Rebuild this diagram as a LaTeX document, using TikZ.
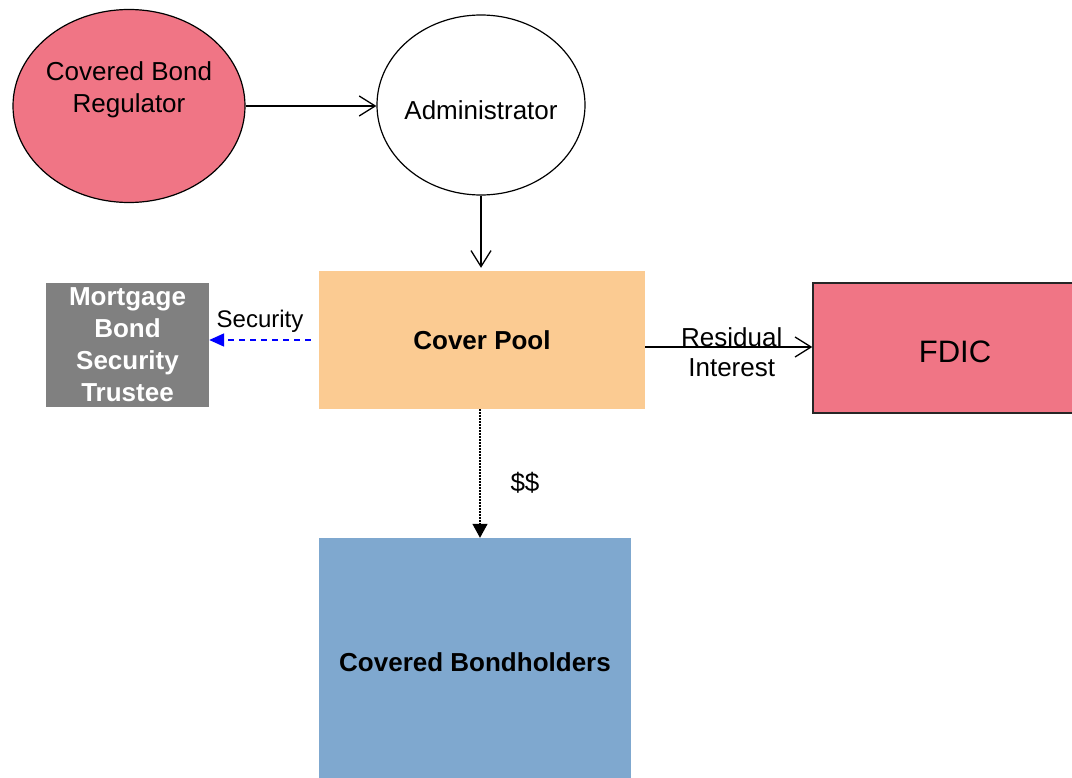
\documentclass[tikz,border=0pt]{standalone}
\usepackage{fontspec}
\setmainfont{Liberation Sans}
\usetikzlibrary{shapes.geometric,arrows.meta}
\definecolor{rpink}{HTML}{F07585}
\definecolor{rpeach}{HTML}{FBCB92}
\definecolor{rblue}{HTML}{7FA8CF}
\definecolor{rgrey}{HTML}{808080}
\tikzset{
  txt/.style={font=\fontsize{26}{32}\selectfont, align=center, inner sep=0pt},
  bx/.style={rectangle, inner sep=0pt, txt},
  conn/.style={line width=1.3pt},
  openarrow/.style={conn, -{Straight Barb[length=16pt,width=20pt,line width=1.3pt]}},
}
\begin{document}
\begin{tikzpicture}[x=1pt,y=-1pt]
\clip (0,0) rectangle (1072,778);
\fill[white] (0,0) rectangle (1072,778);
% nodes
\node[ellipse, draw, fill=rpink, line width=1.2pt, minimum width=232pt, minimum height=193pt, inner sep=0pt] (reg) at (129,106) {};
\node[txt] (regtext) at (129,90) {Covered Bond\\Regulator};
\node[ellipse, draw, fill=white, line width=1.2pt, minimum width=208pt, minimum height=180pt, inner sep=0pt,
  label={[txt, yshift=-5pt]center:Administrator}] (admin) at (481,105) {};
\node[bx, fill=rgrey, text=white, font=\bfseries\fontsize{26}{32}\selectfont, minimum width=163pt, minimum height=124pt] (mort) at (127.5,345) {Mortgage\\Bond\\Security\\Trustee};
\node[bx, fill=rpeach, font=\bfseries\fontsize{26}{32}\selectfont, minimum width=326pt, minimum height=138pt] (pool) at (482,340) {Cover Pool};
\node[bx, fill=rpink, draw=black!85, line width=1.5pt, minimum width=284pt, minimum height=130pt,
  label={[font=\fontsize{31}{36}\selectfont, inner sep=0pt, yshift=-4pt]center:FDIC}] (fdic) at (955,348) {};
\node[bx, fill=rblue, font=\bfseries\fontsize{26}{32}\selectfont, minimum width=312pt, minimum height=248pt] (bond) at (475,662) {Covered Bondholders};
% connectors
\draw[openarrow] (reg.east) -- (reg.east -| admin.west);
\draw[openarrow] (admin.south) -- ([yshift=3pt]admin.south |- pool.north);
\draw[line width=1.8pt, blue, dash pattern=on 6pt off 5pt, -{Triangle[length=15pt,width=13pt]}]
  ([xshift=-8pt]pool.west) -- (pool.west -| mort.east)
  node[midway, yshift=19pt, text=black, font=\fontsize{24}{28}\selectfont] {Security};
\draw[openarrow] ([yshift=-7pt]pool.east) -- ([yshift=-7pt]pool.east -| fdic.west)
  node[midway, xshift=3pt, yshift=10pt, txt] {Residual}
  node[midway, xshift=3pt, yshift=-21pt, txt] {Interest};
\draw[line width=1.4pt, dash pattern=on 1.5pt off 1.5pt, -{Triangle[length=14pt,width=15pt]}]
  ([xshift=-2pt]pool.south) -- ([xshift=-2pt]pool.south |- bond.north)
  node[midway, xshift=45pt, yshift=-9pt, txt] {\$\$};
\end{tikzpicture}
\end{document}
